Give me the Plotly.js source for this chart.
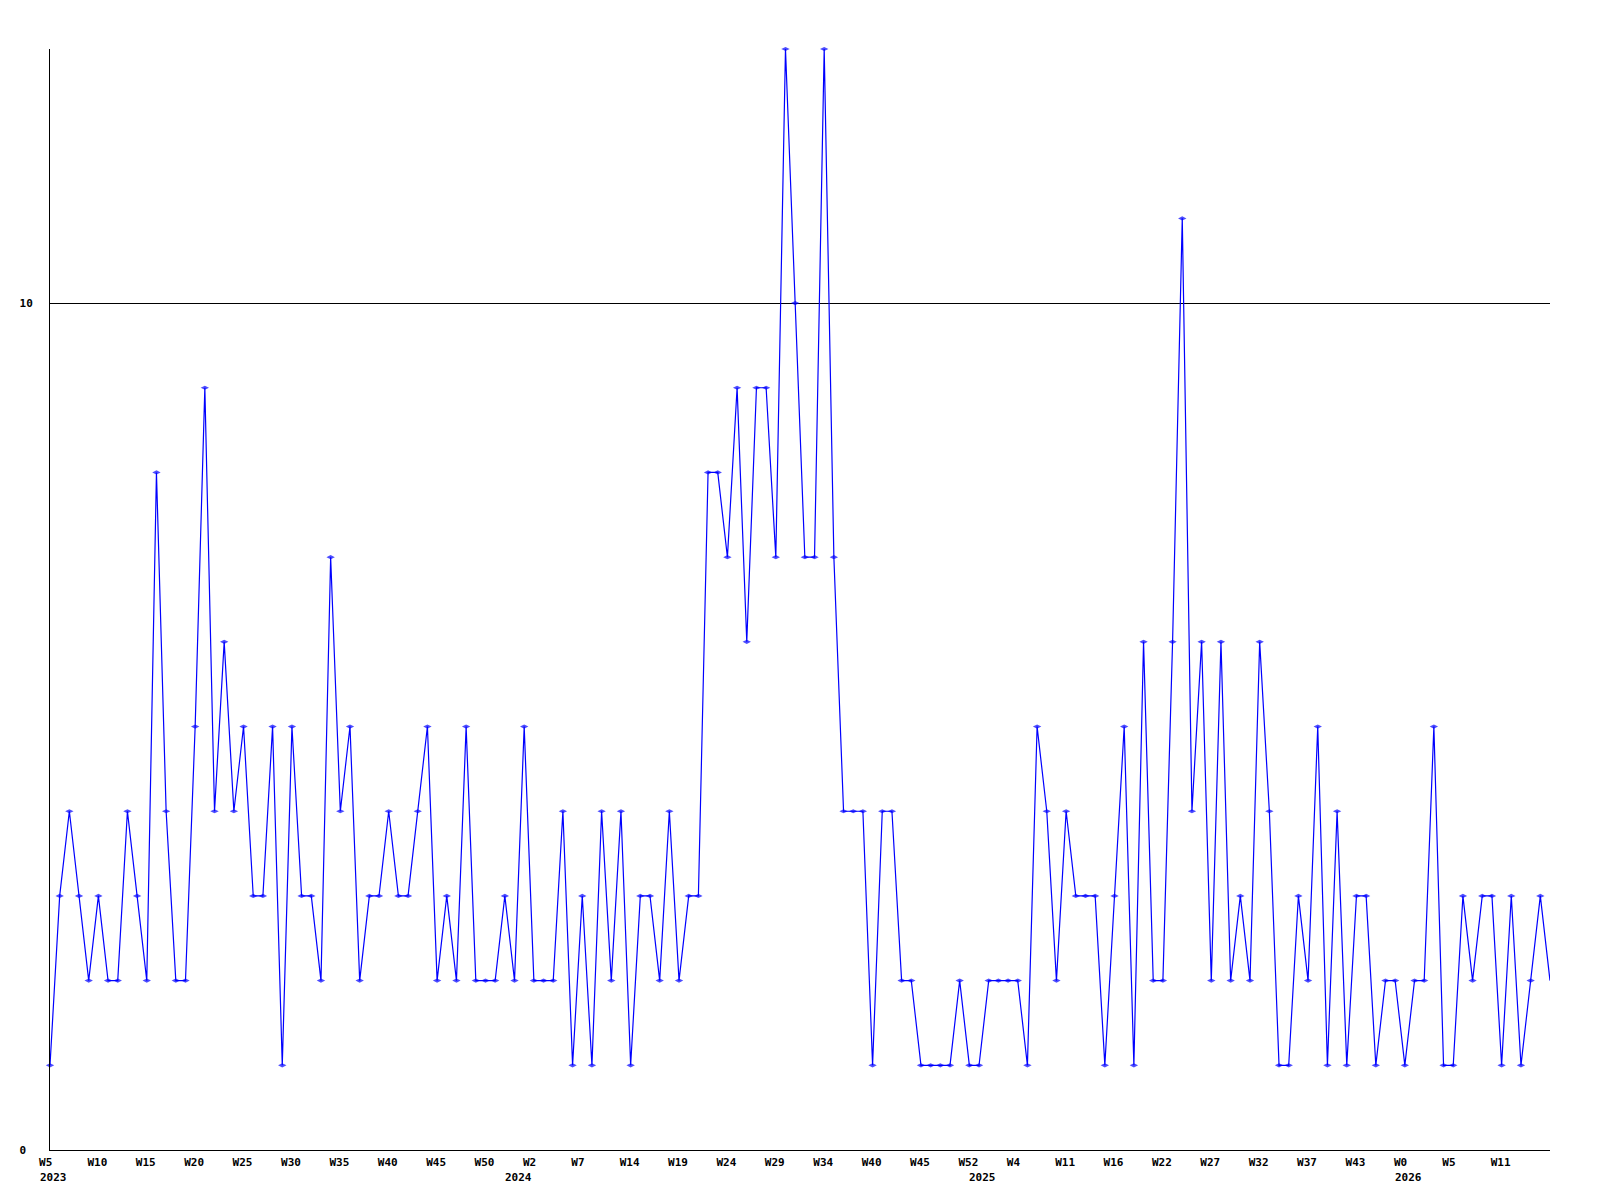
<!DOCTYPE html>
<html>
<head>
<meta charset="utf-8">
<script src="https://cdn.plot.ly/plotly-3.0.1.min.js"></script>
<style>html,body{margin:0;padding:0;background:#fff;}#chart{width:1600px;height:1200px;}</style>
</head>
<body>
<div id="chart"></div>
<script>
// Weekly counts, one value per point (index 0 = W5 2023)
const values = [1,3,4,3,2,3,2,2,4,3,2,8,4,2,2,5,9,4,6,4,
  5,3,3,5,1,5,3,3,2,7,4,5,2,3,3,4,3,3,4,5,
  2,3,2,5,2,2,2,3,2,5,2,2,2,4,1,3,1,4,2,4,
  1,3,3,2,4,2,3,3,8,8,7,9,6,9,9,7,13,10,7,7,
  13,7,4,4,4,1,4,4,2,2,1,1,1,1,2,1,1,2,2,2,
  2,1,5,4,2,4,3,3,3,1,3,5,1,6,2,2,6,11,4,6,
  2,6,2,3,2,6,4,1,1,3,2,5,1,4,1,3,3,1,2,2,
  1,2,2,5,1,1,3,2,3,3,1,3,1,2,3,2];

// Week tick labels, one every 5 points
const tickIndex = [0,5,10,15,20,25,30,35,40,45,50,55,60,65,70,75,80,85,90,95,100,105,110,115,120,125,130,135,140,145,150];
const tickLabels = ["W5","W10","W15","W20","W25","W30","W35","W40","W45","W50","W2","W7","W14","W19","W24","W29","W34","W40","W45","W52","W4","W11","W16","W22","W27","W32","W37","W43","W0","W5","W11"];

// Year labels and the point where each year begins
const yearLabels = ["2023","2024","2025","2026"];
const yearIndex = [0,48,96,140];

// Y axis ticks
const yTickVals = [0,10];
const yTickText = ["0","10"];

const NBSP = "\u00a0";
const xs = values.map((v,i)=>i);
const font = {family:"DejaVu Sans Mono, Liberation Mono, monospace", size:11, color:"#000", weight:"bold"};

const trace = {
  x: xs, y: values, type:"scatter", mode:"lines+markers",
  line:{color:"#0000ff", width:1.2},
  marker:{color:"#0000ff", symbol:"diamond-wide", size: values.map((v,i)=> i===values.length-1 ? 0 : 6), line:{width:0}},
  cliponaxis:false, hoverinfo:"x+y"
};

const annotations = yearLabels.map((t,k)=>({
  text:t, x:yearIndex[k], xref:"x", y:0, yref:"paper",
  xanchor:"left", yanchor:"middle", xshift:-12, yshift:-27,
  showarrow:false, font:font
}));

const layout = {
  width:1600, height:1200,
  margin:{l:50, r:50, t:49, b:50, pad:0},
  paper_bgcolor:"#fff", plot_bgcolor:"#fff",
  showlegend:false,
  xaxis:{range:[0,values.length-1], tickmode:"array", tickvals:tickIndex,
    ticktext:tickLabels.map(t=>t.padEnd(3, NBSP)),
    showgrid:false, zeroline:false, showline:true, linecolor:"#000", linewidth:1,
    ticks:"", tickfont:font, ticklabelstandoff:2, ticklabelshift:-1, fixedrange:true},
  yaxis:{range:[0,13], tickmode:"array", tickvals:yTickVals,
    ticktext:yTickText.map(t=>t.padEnd(2, NBSP)),
    showgrid:true, gridcolor:"#000", gridwidth:1, zeroline:false,
    showline:true, linecolor:"#000", linewidth:1, ticks:"", tickfont:font, ticklabelstandoff:14, fixedrange:true},
  annotations: annotations
};

Plotly.newPlot("chart", [trace], layout, {staticPlot:true, displayModeBar:false});
</script>
</body>
</html>
